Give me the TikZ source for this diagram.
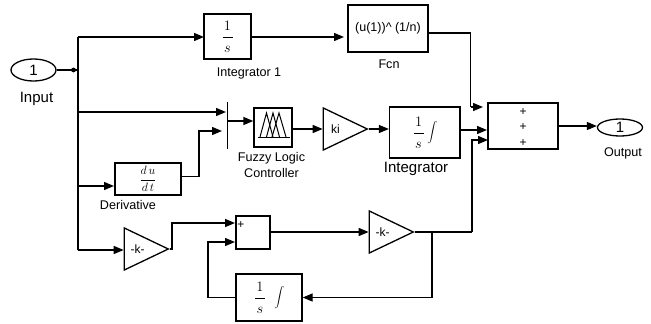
\documentclass[tikz,border=0pt]{standalone}
\usepackage{fontspec}
\setmainfont{Liberation Sans}
\usetikzlibrary{arrows.meta,shapes.geometric}
\newcommand{\blockfrac}[2]{$\displaystyle\frac{\makebox[10pt]{\rule[-3pt]{0pt}{13pt}$#1$}}{\rule{0pt}{14pt}#2}$}

\begin{document}
\begin{tikzpicture}[x=1pt,y=-1pt,
  wire/.style={draw,line width=1.3pt},
  feed/.style={wire,-{Triangle[length=10pt,width=8pt]}},
  block/.style={draw,line width=1.3pt,inner sep=0pt},
  gain/.style={draw,line width=1.3pt,inner sep=0pt,isosceles triangle,isosceles triangle stretches,anchor=apex,minimum width=42pt,minimum height=44pt,font=\fontsize{12}{12}\selectfont},
  port/.style={draw,line width=1.3pt,ellipse,inner sep=0pt,minimum width=45pt,font=\fontsize{15}{15}\selectfont},
  caption/.style={inner sep=0pt,font=\fontsize{12.6}{14}\selectfont},
  bigcaption/.style={inner sep=0pt,font=\fontsize{15}{15}\selectfont},
  plus/.style={inner sep=0pt,font=\fontsize{12}{12}\selectfont}]
\useasboundingbox (0,0) rectangle (651,324);

\node[port,minimum height=22pt] (input) at (33.5,70) {1};
\node[bigcaption] (inputlabel) at (36.5,99) {Input};
\fill (73.5,70) circle (2.4pt) coordinate (split);
\coordinate (trunk) at (78,70);
\coordinate (trunktop) at (78,37);
\coordinate (trunkbot) at (78,250);

\node[block,minimum width=47pt,minimum height=45pt] (int1) at (227.5,36.5) {\fontsize{15}{15}\selectfont\blockfrac{1}{s}};
\node[caption] (int1label) at (249,73) {Integrator 1};
\node[block,minimum width=80pt,minimum height=47pt] (fcn) at (388,28.5) {\fontsize{12.5}{14}\selectfont(u(1))\^{} (1/n)};
\node[caption] (fcnlabel) at (389,64) {Fcn};

\node[fill=black,inner sep=0pt,minimum width=1pt,minimum height=47pt] (mux) at (227,125.5) {};
\node[block,minimum width=38pt,minimum height=39pt] (fuzzy) at (273,127.5) {};
\node[caption,align=center] (fuzzylabel) at (271.5,165) {Fuzzy Logic\\[2pt]Controller};
\node[gain] (ki) at (369,129) {ki};
\node[block,minimum width=70.5pt,minimum height=51pt] (int2) at (424.8,132.5) {\fontsize{15}{15}\selectfont\blockfrac{1}{s}\,$\displaystyle\int$};
\node[bigcaption] (int2label) at (416,169) {Integrator};

\node[block,minimum width=66pt,minimum height=32pt] (deriv) at (148,179) {\fontsize{12}{12}\selectfont$\displaystyle\frac{\rule{0pt}{8pt}d\,u}{\rule{0pt}{9pt}d\,t}$};
\node[caption] (derivlabel) at (128,205) {Derivative};

\node[block,minimum width=70pt,minimum height=46pt] (sumout) at (523,126) {};
\node[plus] (plusa) at (523,112) {+};
\node[plus] (plusb) at (523,127) {+};
\node[plus] (plusc) at (523,143) {+};
\node[port,minimum height=17pt] (output) at (620,127.5) {1};
\node[caption] (outputlabel) at (623,153) {Output};

\node[gain] (gaina) at (170,249) {-k-};
\node[block,minimum width=34pt,minimum height=33pt] (sumfb) at (253,232.5) {};
\node[plus] (plusd) at (241,225) {+};
\node[gain] (gainb) at (415,232) {-k-};
\node[block,minimum width=66pt,minimum height=47pt] (int3) at (269,297.5) {\fontsize{15}{15}\selectfont\blockfrac{1}{s}\;\;$\displaystyle\int$};

\draw[line width=1pt] (258,137) -- (290,137);
\draw[line width=1pt] (260,137) -- (266.5,113) -- (273,137);
\draw[line width=1pt] (266.5,137) -- (273,113) -- (279.5,137);
\draw[line width=1pt] (272,137) -- (279,113) -- (286,137);

\coordinate (int1in) at (204,37);
\coordinate (muxina) at (226,112);
\coordinate (muxinb) at (222,131);
\coordinate (muxout) at (227,121);
\coordinate (derivbend) at (199,176.5);
\coordinate (fcnin) at (344,37);
\coordinate (fcnout) at (428,33);
\coordinate (sumina) at (483,107);
\coordinate (suminb) at (487,130);
\coordinate (suminc) at (488,140);
\coordinate (sumbranch) at (472,232);
\coordinate (fbbranch) at (432,232);
\coordinate (sumfbina) at (235,223);
\coordinate (sumfbinb) at (235,242);

\path[wire] (input) -- (split) -- (trunk);
\path[wire] (trunktop) -- (trunkbot);
\path[feed] (trunktop) -- (int1in);
\path[feed] (78,112) -- (muxina);
\path[feed] (78,186) -- (114,186);
\path[feed] (trunkbot) -- (gaina.west |- trunkbot);
\path[feed] (int1.east |- fcnin) -- (fcnin);
\path[wire] (fcnout) -| (470.7,107);
\path[feed] (470.7,107) -- (sumina);
\path[feed] (deriv.east |- derivbend) -- (derivbend) |- (muxinb);
\path[feed] (muxout) -- (fuzzy.west |- muxout);
\path[feed] (fuzzy.east |- ki.apex) -- (ki.west |- ki.apex);
\path[feed] (ki.apex) -- (int2.west |- ki.apex);
\path[feed] (int2.east |- suminb) -- (suminb);
\path[feed] (sumout.east) -- (sumout.east -| output.west);
\path[feed] (gaina.apex) -- ++(2,0) |- (sumfbina);
\path[feed] (sumfb.east |- gainb.apex) -- (gainb.west |- gainb.apex);
\path[wire] (gainb.apex) -- (sumbranch);
\path[feed] (sumbranch) |- (suminc);
\path[feed] (fbbranch) |- (int3.east);
\path[feed] (int3.west) -| (208,242) -- (sumfbinb);
\end{tikzpicture}
\end{document}
